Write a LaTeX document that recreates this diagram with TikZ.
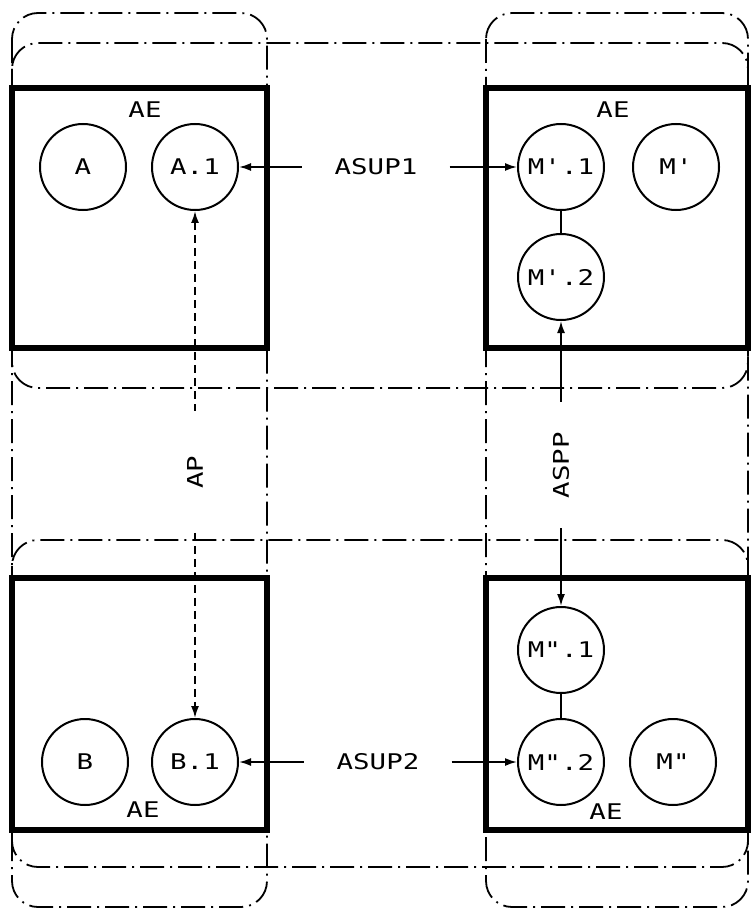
\documentclass[tikz,border=0pt]{standalone}
\usepackage{fontspec}
\newfontfamily\typefont{DejaVu Sans Mono}
\usepackage{tikz}
\usetikzlibrary{arrows.meta,calc}
\def\tw#1{\scalebox{1.27}[1]{#1}}
\def\sq{\textquotesingle}
\def\dq{\textquotedbl}

\begin{document}
\begin{tikzpicture}[x=0.5pt,y=-0.5pt,font=\typefont\fontsize{10.8}{12}\selectfont,
	>={Latex[length=6pt,width=4pt]},
	ent/.style={circle,draw,line width=1pt,minimum size=43pt,inner sep=0pt},
	aebox/.style={line width=3pt},
	band/.style={line width=0.9pt,rounded corners=13pt,dash pattern=on 12pt off 3pt on 1pt off 3pt},
	link/.style={line width=0.9pt}]
	\useasboundingbox (0,0) rectangle (752,909);
	% dash-dot bands
	\draw[band] (12,13) rectangle (267,907);
	\draw[band] (486,13) rectangle (748,907);
	\draw[band] (12,43) rectangle (748,388);
	\draw[band] (12,540) rectangle (748,867);
	% AE boxes
	\draw[aebox] (12,88) rectangle (267,348);
	\draw[aebox] (486,88) rectangle (748,348);
	\draw[aebox] (12,578) rectangle (267,830);
	\draw[aebox] (486,578) rectangle (748,830);
	\node (ae1) at (145,110){\tw{AE}};
	\node (ae2) at (613,110){\tw{AE}};
	\node (ae3) at (143,810){\tw{AE}};
	\node (ae4) at (606,812){\tw{AE}};
	% entities
	\node[ent] (A) at (83,167){\tw{A}};
	\node[ent] (A1) at (195,167){\tw{A.1}};
	\node[ent] (Mp1) at (561,167){\tw{M\sq.1}};
	\node[ent] (Mp) at (676,167){\tw{M\sq}};
	\node[ent] (Mp2) at (561,277){\tw{M\sq.2}};
	\node[ent] (B) at (85,762){\tw{B}};
	\node[ent] (B1) at (195,762){\tw{B.1}};
	\node[ent] (Mpp1) at (561,650){\tw{M\dq.1}};
	\node[ent] (Mpp2) at (561,762){\tw{M\dq.2}};
	\node[ent] (Mpp) at (673,762){\tw{M\dq}};
	\draw[link] (Mp1) -- (Mp2);
	\draw[link] (Mpp1) -- (Mpp2);
	% associations
	\node[inner xsep=16pt] (asup1) at (376,167){\tw{ASUP1}};
	\draw[link,<-] (A1) -- (asup1);
	\draw[link,->] (asup1) -- (Mp1);
	\node[inner xsep=16pt] (asup2) at (378,762){\tw{ASUP2}};
	\draw[link,<-] (B1) -- (asup2);
	\draw[link,->] (asup2) -- (Mpp2);
	\node[rotate=90,inner xsep=22pt] (ap) at (195,472){\tw{AP}};
	\draw[link,dash pattern=on 4pt off 2.5pt,<-] (A1) -- (ap);
	\draw[link,dash pattern=on 4pt off 2.5pt,->] (ap) -- (B1);
	\node[rotate=90,inner xsep=15pt] (aspp) at (561,465){\tw{ASPP}};
	\draw[link,<-] (Mp2) -- (aspp);
	\draw[link,->] (aspp) -- (Mpp1);
\end{tikzpicture}
\end{document}
